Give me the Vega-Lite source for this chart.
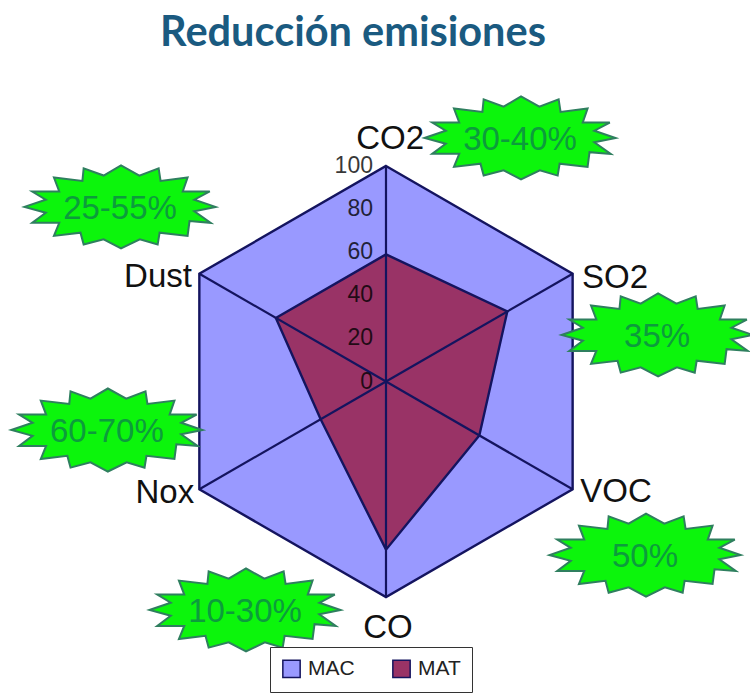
{
  "$schema": "https://vega.github.io/schema/vega-lite/v6.json",
  "width": 750,
  "height": 696,
  "autosize": "none",
  "padding": 0,
  "background": "#ffffff",
  "view": {"stroke": null},
  "datasets": {
    "radar": [
      {"eje": "CO2", "spoke": 0, "serie": "MAC", "valor": 100},
      {"eje": "SO2", "spoke": 1, "serie": "MAC", "valor": 100},
      {"eje": "VOC", "spoke": 2, "serie": "MAC", "valor": 100},
      {"eje": "CO", "spoke": 3, "serie": "MAC", "valor": 100},
      {"eje": "Nox", "spoke": 4, "serie": "MAC", "valor": 100},
      {"eje": "Dust", "spoke": 5, "serie": "MAC", "valor": 100},
      {"eje": "CO2", "spoke": 0, "serie": "MAT", "valor": 59},
      {"eje": "SO2", "spoke": 1, "serie": "MAT", "valor": 65},
      {"eje": "VOC", "spoke": 2, "serie": "MAT", "valor": 50},
      {"eje": "CO", "spoke": 3, "serie": "MAT", "valor": 78},
      {"eje": "Nox", "spoke": 4, "serie": "MAT", "valor": 35},
      {"eje": "Dust", "spoke": 5, "serie": "MAT", "valor": 59}
    ],
    "escala": [
      {"valor": 0}, {"valor": 20}, {"valor": 40}, {"valor": 60}, {"valor": 80}, {"valor": 100}
    ],
    "ejes": [
      {"eje": "CO2", "x": 1.9, "y": 112.6},
      {"eje": "SO2", "x": 106.3, "y": 48},
      {"eje": "VOC", "x": 106.7, "y": -51.3},
      {"eje": "CO", "x": 0.9, "y": -114.4},
      {"eje": "Nox", "x": -102.6, "y": -51.8},
      {"eje": "Dust", "x": -105.8, "y": 48.5}
    ],
    "reducciones": [
      {"eje": "CO2", "texto": "30-40%", "x": 62.2, "y": 113},
      {"eje": "Dust", "texto": "25-55%", "x": -123.4, "y": 81},
      {"eje": "SO2", "texto": "35%", "x": 125.8, "y": 21.6},
      {"eje": "Nox", "texto": "60-70%", "x": -129.5, "y": -22.5},
      {"eje": "VOC", "texto": "50%", "x": 120.2, "y": -80.5},
      {"eje": "CO", "texto": "10-30%", "x": -65.4, "y": -106}
    ],
    "titulo": [
      {"texto": "Reducción emisiones", "x": -15.3, "y": 161.4}
    ]
  },
  "encoding": {
    "x": {"field": "x", "type": "quantitative", "axis": null, "scale": {"domain": [-179.1, 168.9], "nice": false, "zero": false}},
    "y": {"field": "y", "type": "quantitative", "axis": null, "scale": {"domain": [-145.9, 177], "nice": false, "zero": false}}
  },
  "layer": [
    {
      "data": {"name": "radar"},
      "transform": [
        {"calculate": "datum.valor * sin(PI / 3 * datum.spoke)", "as": "x"},
        {"calculate": "datum.valor * cos(PI / 3 * datum.spoke)", "as": "y"}
      ],
      "mark": {"type": "line", "interpolate": "linear-closed", "stroke": "#14145f", "strokeWidth": 2.4, "strokeJoin": "miter"},
      "encoding": {
        "order": {"field": "spoke", "type": "quantitative"},
        "fill": {
          "field": "serie",
          "type": "nominal",
          "scale": {"domain": ["MAC", "MAT"], "range": ["#9999ff", "#993366"]},
          "legend": {
            "title": null,
            "orient": "none",
            "legendX": 270,
            "legendY": 647,
            "direction": "horizontal",
            "symbolType": "square",
            "symbolSize": 300,
            "symbolStrokeColor": "#14145f",
            "symbolStrokeWidth": 1.5,
            "symbolOpacity": 1,
            "labelFont": "Liberation Sans",
            "labelFontSize": 21,
            "labelColor": "#222222",
            "labelOffset": 6,
            "columnPadding": 34,
            "padding": 11,
            "fillColor": "#ffffff",
            "strokeColor": "#333333",
            "cornerRadius": 0
          }
        }
      }
    },
    {
      "data": {"name": "radar"},
      "transform": [
        {"filter": "datum.serie === 'MAC'"},
        {"calculate": "datum.valor * sin(PI / 3 * datum.spoke)", "as": "x"},
        {"calculate": "datum.valor * cos(PI / 3 * datum.spoke)", "as": "y"}
      ],
      "mark": {"type": "rule", "color": "#14145f", "strokeWidth": 2.2},
      "encoding": {
        "x2": {"datum": 0},
        "y2": {"datum": 0}
      }
    },
    {
      "data": {"name": "escala"},
      "transform": [
        {"calculate": "0", "as": "x"},
        {"calculate": "datum.valor", "as": "y"}
      ],
      "mark": {"type": "text", "align": "right", "baseline": "middle", "dx": -13, "font": "Liberation Sans", "fontSize": 23, "color": "#000000", "opacity": 0.78},
      "encoding": {
        "text": {"field": "valor", "type": "quantitative"}
      }
    },
    {
      "data": {"name": "ejes"},
      "mark": {"type": "text", "align": "center", "baseline": "middle", "font": "Liberation Sans", "fontSize": 33, "color": "#111111"},
      "encoding": {"text": {"field": "eje", "type": "nominal"}}
    },
    {
      "data": {"name": "reducciones"},
      "mark": {
        "type": "point",
        "filled": true,
        "opacity": 1,
        "size": 37249,
        "fill": "#0cf50c",
        "stroke": "#2f7f5f",
        "strokeWidth": 2,
        "shape": "M.99,0L.77,.045L.94,.165L.72,.147L.7,.3L.41,.267L.39,.39L.205,.335L.01,.43L-.17,.335L-.377,.39L-.41,.267L-.685,.3L-.63,.165L-.91,.165L-.77,.06L-.99,0L-.77,-.075L-.91,-.16L-.63,-.16L-.685,-.305L-.39,-.27L-.377,-.4L-.17,-.325L.01,-.43L.2,-.325L.4,-.4L.42,-.27L.7,-.305L.65,-.16L.93,-.16L.77,-.075Z"
      }
    },
    {
      "data": {"name": "reducciones"},
      "mark": {"type": "text", "align": "center", "baseline": "middle", "dy": 2, "font": "Liberation Sans", "fontSize": 33, "color": "#0c9c3c"},
      "encoding": {"text": {"field": "texto", "type": "nominal"}}
    },
    {
      "data": {"name": "titulo"},
      "mark": {"type": "text", "align": "center", "baseline": "middle", "font": "Lato", "fontWeight": "bold", "fontSize": 41.5, "color": "#1a5a80"},
      "encoding": {"text": {"field": "texto", "type": "nominal"}}
    }
  ]
}
